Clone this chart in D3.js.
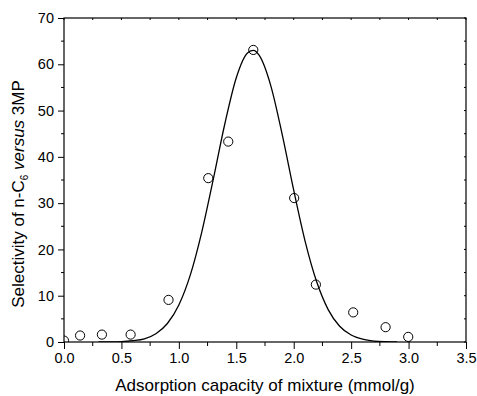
<!DOCTYPE html>
<html>
<head>
<meta charset="utf-8">
<script src="https://cdn.jsdelivr.net/npm/d3@7"></script>
<style>
  body { margin: 0; background: #fff; }
  svg { display: block; font-family: "Liberation Sans", Arial, sans-serif; }
</style>
</head>
<body>
<div id="chart"></div>
<script>
// measured points (open circles)
const pointX = [0.0, 0.14, 0.33, 0.58, 0.91, 1.256, 1.43, 1.648, 2.004, 2.193, 2.518, 2.80, 2.997];
const pointY = [0.3, 1.4, 1.6, 1.6, 9.1, 35.4, 43.3, 63.1, 31.1, 12.4, 6.4, 3.2, 1.1];

// fitted curve
const curveX = [0.3, 0.5, 0.6, 0.7, 0.8, 0.9, 1.0, 1.1, 1.2, 1.3, 1.4, 1.5, 1.6, 1.65, 1.7, 1.8, 1.9, 2.0, 2.1, 2.2, 2.3, 2.4, 2.5, 2.6, 2.7, 2.8, 2.9];
const curveY = [0.0, 0.1, 0.3, 0.7, 1.8, 4.0, 8.0, 14.5, 23.8, 35.2, 47.1, 57.1, 62.5, 63.0, 61.9, 55.4, 44.8, 32.8, 21.7, 13.0, 7.0, 3.4, 1.5, 0.6, 0.2, 0.05, 0.0];

const xTicks = [0, 0.5, 1.0, 1.5, 2.0, 2.5, 3.0, 3.5];
const yTicks = [0, 10, 20, 30, 40, 50, 60, 70];
const xMinor = [0.25, 0.75, 1.25, 1.75, 2.25, 2.75, 3.25];
const yMinor = [5, 15, 25, 35, 45, 55, 65];

const width = 477, height = 396;
const margin = { top: 18, right: 11, bottom: 54, left: 64 };
const innerWidth = width - margin.left - margin.right;
const innerHeight = height - margin.top - margin.bottom;

const svg = d3.select('#chart').append('svg')
  .attr('width', width)
  .attr('height', height);

svg.append('rect').attr('width', width).attr('height', height).attr('fill', '#fff');

const x = d3.scaleLinear().domain([0, 3.5]).range([0, innerWidth]);
const y = d3.scaleLinear().domain([0, 70]).range([innerHeight, 0]);

const g = svg.append('g')
  .attr('transform', `translate(${margin.left},${margin.top})`);

svg.append('defs').append('clipPath').attr('id', 'plot-clip')
  .append('rect').attr('width', innerWidth).attr('height', innerHeight);

// small ticks: outward on bottom/left, inward on top/right
const tickLines = g.append('g').attr('stroke', '#000').attr('stroke-width', 1);
tickLines.selectAll('.xminor').data(xMinor).enter().append('line')
  .attr('x1', d => x(d)).attr('x2', d => x(d))
  .attr('y1', innerHeight).attr('y2', innerHeight + 4);
tickLines.selectAll('.yminor').data(yMinor).enter().append('line')
  .attr('x1', -3).attr('x2', 0)
  .attr('y1', d => y(d)).attr('y2', d => y(d));
tickLines.selectAll('.xtop').data(xTicks.concat(xMinor)).enter().append('line')
  .attr('x1', d => x(d)).attr('x2', d => x(d))
  .attr('y1', 0).attr('y2', 2);
tickLines.selectAll('.yright').data(yTicks.concat(yMinor)).enter().append('line')
  .attr('x1', innerWidth - 2).attr('x2', innerWidth)
  .attr('y1', d => y(d)).attr('y2', d => y(d));

// major axes
const xAxis = g.append('g')
  .attr('transform', `translate(0,${innerHeight})`)
  .call(d3.axisBottom(x).tickValues(xTicks).tickSize(7).tickPadding(4).tickFormat(d3.format('.1f')));
const yAxis = g.append('g')
  .call(d3.axisLeft(y).tickValues(yTicks).tickSize(6).tickPadding(4));

[xAxis, yAxis].forEach(a => {
  a.select('.domain').remove();
  a.selectAll('text').attr('font-size', 14.5).attr('fill', '#000')
    .attr('font-family', '"Liberation Sans", Arial, sans-serif');
  a.selectAll('line').attr('stroke', '#000');
});

// frame
g.append('rect')
  .attr('width', innerWidth)
  .attr('height', innerHeight)
  .attr('fill', 'none')
  .attr('stroke', '#000')
  .attr('stroke-width', 1.2);

const plot = g.append('g').attr('clip-path', 'url(#plot-clip)');

const line = d3.line()
  .x(i => x(curveX[i]))
  .y(i => y(curveY[i]))
  .curve(d3.curveMonotoneX);

plot.append('path')
  .datum(d3.range(curveX.length))
  .attr('d', line)
  .attr('fill', 'none')
  .attr('stroke', '#000')
  .attr('stroke-width', 1.3);

plot.selectAll('.dot')
  .data(d3.range(pointX.length))
  .enter()
  .append('circle')
  .attr('class', 'dot')
  .attr('cx', i => x(pointX[i]))
  .attr('cy', i => y(pointY[i]))
  .attr('r', 4.6)
  .attr('fill', 'none')
  .attr('stroke', '#000')
  .attr('stroke-width', 1);

// axis titles
g.append('text')
  .attr('x', innerWidth / 2)
  .attr('y', innerHeight + 49)
  .attr('text-anchor', 'middle')
  .attr('font-size', 17)
  .text('Adsorption capacity of mixture (mmol/g)');

const yTitle = svg.append('text')
  .attr('transform', 'translate(24,194) rotate(-90)')
  .attr('text-anchor', 'middle')
  .attr('font-size', 17);
yTitle.append('tspan').text('Selectivity of n-C');
yTitle.append('tspan').attr('font-size', 10).attr('dy', 4).text('6');
yTitle.append('tspan').attr('dy', -4).text(' ');
yTitle.append('tspan').attr('font-style', 'italic').text('versus');
yTitle.append('tspan').text(' 3MP');
</script>
</body>
</html>
